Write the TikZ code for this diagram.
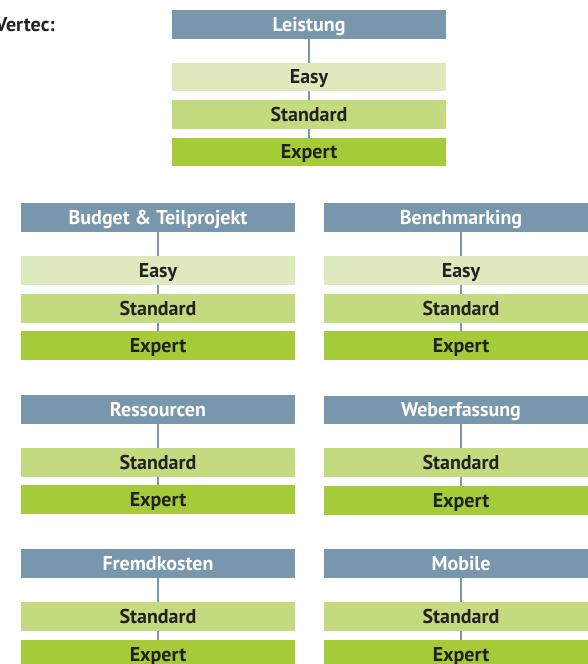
\documentclass[tikz,border=0pt]{standalone}
\usepackage{fontspec}
\setmainfont{PT Sans}
\definecolor{hdr}{RGB}{120,150,172}
\definecolor{lvE}{RGB}{222,234,190}
\definecolor{lvS}{RGB}{196,218,126}
\definecolor{lvX}{RGB}{165,203,56}
\definecolor{txt}{RGB}{34,34,34}
\tikzset{
  box/.style={minimum width=274pt, minimum height=28.5pt, inner sep=0pt, outer sep=0pt,
    font=\fontsize{20}{20}\selectfont\bfseries, text height=15pt, text depth=2pt},
  head/.style={box, fill=hdr, text=white},
  easybox/.style={box, fill=lvE, text=txt},
  stdbox/.style={box, fill=lvS, text=txt},
  expbox/.style={box, fill=lvX, text=txt},
  conn/.style={draw=hdr, line width=2pt}
}
\begin{document}
\begin{tikzpicture}[x=1pt,y=-1pt]
\useasboundingbox (0,0) rectangle (588,664);
\node[anchor=base east, font=\fontsize{20}{20}\selectfont\bfseries, text=txt, inner sep=0pt] (vt) at (55,31) {Vertec:};
% Leistung
\node[head] (h0) at (309,24.5) {Leistung};
\node[easybox] (e0) at (309,77) {Easy};
\node[stdbox] (s0) at (309,114.5) {Standard};
\node[expbox] (x0) at (309,152) {Expert};
% Budget
\node[head] (h1) at (158,217.5) {Budget \& Teilprojekt};
\node[easybox] (e1) at (158,270.5) {Easy};
\node[stdbox] (s1) at (158,308.5) {Standard};
\node[expbox] (x1) at (158,345.5) {Expert};
% Benchmarking
\node[head] (h2) at (461,217.5) {Benchmarking};
\node[easybox] (e2) at (461,270.5) {Easy};
\node[stdbox] (s2) at (461,308.5) {Standard};
\node[expbox] (x2) at (461,345.5) {Expert};
% Ressourcen
\node[head] (h3) at (158,409.5) {Ressourcen};
\node[stdbox] (s3) at (158,462.5) {Standard};
\node[expbox] (x3) at (158,499.5) {Expert};
% Weberfassung
\node[head] (h4) at (461,410) {Weberfassung};
\node[stdbox] (s4) at (461,462.5) {Standard};
\node[expbox] (x4) at (461,500.5) {Expert};
% Fremdkosten
\node[head] (h5) at (158,563.5) {Fremdkosten};
\node[stdbox] (s5) at (158,616.5) {Standard};
\node[expbox] (x5) at (158,654.5) {Expert};
% Mobile
\node[head] (h6) at (461,563.5) {Mobile};
\node[stdbox] (s6) at (461,616.5) {Standard};
\node[expbox] (x6) at (461,654.5) {Expert};
% connectors
\foreach \a/\b in {h0/e0,e0/s0,s0/x0,h1/e1,e1/s1,s1/x1,h2/e2,e2/s2,s2/x2,h3/s3,s3/x3,h4/s4,s4/x4,h5/s5,s5/x5,h6/s6,s6/x6}
  \draw[conn] (\a.south) -- (\b.north);
\end{tikzpicture}
\end{document}
